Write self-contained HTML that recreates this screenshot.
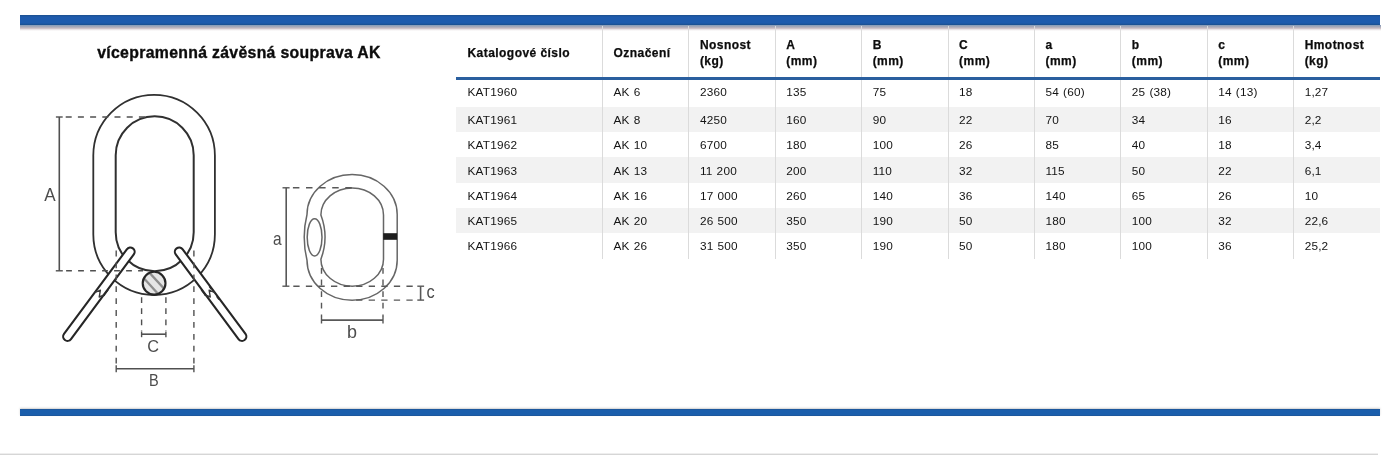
<!DOCTYPE html>
<html lang="cs">
<head>
<meta charset="utf-8">
<title>vícepramenná závěsná souprava AK</title>
<style>
  html, body { margin: 0; padding: 0; background: #ffffff; }
  .title, table.spec, svg.drawing { will-change: transform; }
  body { width: 1400px; height: 455px; position: relative; overflow: hidden;
         font-family: "Liberation Sans", sans-serif; color: #1a1a1a; }
  .bar-top { position: absolute; left: 20px; top: 15px; width: 1360px; height: 10px;
             background: linear-gradient(to bottom, #1b4f8d 0, #1e5bad 2px, #1e5bad 8px, #1b4f8d 10px); }
  .bar-top-shadow { position: absolute; left: 20px; top: 25px; width: 1361px; height: 6px;
             background: linear-gradient(to bottom, #7f9bb9 0, #9aa3b8 1px, #a9a9b8 2px, #cfc3c8 3.5px, #eeeaec 4.7px, #ffffff 6px); }
  .bar-bottom { position: absolute; left: 20px; top: 409px; width: 1360px; height: 7px;
             background: linear-gradient(to bottom, #1d5496 0, #1a5eac 1.5px, #1a5eac 5.5px, #1d5496 7px); box-shadow: 0 -1px 2px rgba(110,110,110,0.32); }
  .foot-line { position: absolute; left: 0; top: 453px; width: 1378px; height: 2px; background: linear-gradient(to bottom, #eeeeee 0, #eeeeee 1px, #d6d6d6 1px, #d6d6d6 2px); }
  .title { position: absolute; left: 21.3px; top: 42px; width: 436px; text-align: center;
           font-weight: bold; font-size: 15.8px; letter-spacing: 0.32px; line-height: 22px; color: #0c0c0c; white-space: nowrap; -webkit-text-stroke: 0.35px #0c0c0c; }
  .drawing { position: absolute; left: 0; top: 0; }

  table.spec { position: absolute; left: 456px; top: 26px; width: 924px; border-collapse: collapse;
               table-layout: fixed; font-size: 11.8px; word-spacing: 0.6px; letter-spacing: 0.2px; }
  table.spec th, table.spec td { padding: 0 0 0 10.5px; text-align: left; vertical-align: middle;
               border-left: 1px solid #dbdbdb; white-space: nowrap; overflow: hidden; }
  table.spec th:first-child, table.spec td:first-child { border-left: none; padding-left: 11.5px; }
  table.spec th { height: 48px; padding-top: 3px; font-weight: bold; font-size: 12px; letter-spacing: 0.45px; word-spacing: 0; line-height: 16px; color: #0c0c0c; -webkit-text-stroke: 0.25px #0c0c0c;
               border-bottom: 3px solid #2a5f9f; }
  table.spec td { height: 24.3px; padding-top: 1px; color: #141414; }
  table.spec tr.first td { height: 24px; padding-top: 0.4px; padding-bottom: 2.4px; }
  table.spec tr.last td { height: 24.3px; padding-top: 1px; padding-bottom: 0.9px; }
  table.spec tr.alt td { background: #f2f2f2; }
</style>
</head>
<body>
<div class="bar-top-shadow"></div>
<div class="bar-top"></div>
<div class="title">vícepramenná závěsná souprava AK</div>

<svg class="drawing" width="456" height="400" viewBox="0 0 456 400" font-family="Liberation Sans, sans-serif">
  <defs>
    <clipPath id="secclip"><circle cx="154.1" cy="283.2" r="11.2"/></clipPath>
  </defs>

  <!-- ===== big link ===== -->
  <g fill="none" stroke="#303030" stroke-width="1.8">
    <path d="M93.3,155.6 A60.8,60.8 0 0 1 214.9,155.6 L214.9,234.2 A60.8,60.8 0 0 1 93.3,234.2 Z"/>
    <path d="M115.7,155.3 A39,39 0 0 1 193.7,155.3 L193.7,232.2 A39,39 0 0 1 115.7,232.2 Z" stroke-width="2"/>
  </g>

  <!-- section circle C -->
  <circle cx="154.1" cy="283.2" r="11.4" fill="#e6e6e6"/>
  <g clip-path="url(#secclip)" stroke="#8e8e8e" stroke-width="2.3" fill="none">
    <line x1="141" y1="275" x2="160" y2="296"/>
    <line x1="146" y1="269" x2="168" y2="293"/>
    <line x1="153" y1="265" x2="172" y2="286"/>
  </g>
  <circle cx="154.1" cy="283.2" r="11.4" fill="none" stroke="#262626" stroke-width="2.1"/>

  <!-- legs -->
  <g stroke-linecap="round">
    <line x1="130.3" y1="251.9" x2="67.5" y2="336.5" stroke="#262626" stroke-width="10.8"/>
    <line x1="130.3" y1="251.9" x2="67.5" y2="336.5" stroke="#ffffff" stroke-width="6.6"/>
    <line x1="179.2" y1="251.9" x2="242" y2="336.5" stroke="#262626" stroke-width="10.8"/>
    <line x1="179.2" y1="251.9" x2="242" y2="336.5" stroke="#ffffff" stroke-width="6.6"/>
  </g>
  <!-- break marks on legs -->
  <g fill="none" stroke="#3a3a3a" stroke-width="1.4" stroke-linejoin="round">
    <path d="M204.6,294.6 L210.3,297 L209.1,290.2 L214.9,292.6"/>
    <path d="M104.9,294.6 L99.2,297 L100.4,290.2 L94.6,292.6"/>
    <path d="M201.3,289.8 L205.8,295.9" stroke-width="1.5" stroke="#2a2a2a"/>
    <path d="M209.2,286.3 L211.4,289.3 M216.6,296.4 L219,299.6" stroke-width="1.3" stroke="#2a2a2a"/>
    <path d="M108.2,289.8 L103.7,295.9" stroke-width="1.2" stroke="#2a2a2a"/>
  </g>

  <!-- dimension A -->
  <g fill="none" stroke="#505050" stroke-width="1.4">
    <line x1="65.7" y1="117" x2="150" y2="117" stroke-dasharray="6 6.2"/>
    <line x1="66.1" y1="270.8" x2="143" y2="270.8" stroke-dasharray="5.8 6.2"/>
    <line x1="59.3" y1="117" x2="59.3" y2="270.8" stroke-width="1.6"/>
    <line x1="55.9" y1="117" x2="62.7" y2="117"/>
    <line x1="55.8" y1="270.8" x2="62.8" y2="270.8"/>
  </g>

  <!-- dimension B -->
  <g fill="none" stroke="#505050" stroke-width="1.4">
    <line x1="116.2" y1="250.6" x2="116.2" y2="365" stroke-dasharray="5.8 6.1"/>
    <line x1="193.9" y1="250.6" x2="193.9" y2="365" stroke-dasharray="5.8 6.1"/>
    <line x1="116.2" y1="368.7" x2="193.9" y2="368.7" stroke-width="1.6"/>
    <line x1="116.2" y1="365.3" x2="116.2" y2="372.2"/>
    <line x1="193.9" y1="365.3" x2="193.9" y2="372.2"/>
  </g>

  <!-- dimension C -->
  <g fill="none" stroke="#505050" stroke-width="1.4">
    <line x1="141.6" y1="297.2" x2="141.6" y2="331" stroke-dasharray="5.8 5.3"/>
    <line x1="165.9" y1="297.2" x2="165.9" y2="331" stroke-dasharray="5.8 5.3"/>
    <line x1="141.6" y1="334.2" x2="165.9" y2="334.2" stroke-width="1.6"/>
    <line x1="141.6" y1="331.4" x2="141.6" y2="337.2"/>
    <line x1="165.9" y1="331.4" x2="165.9" y2="337.2"/>
  </g>

  <g fill="#4d4d4d">
    <text x="44.2" y="201.3" font-size="18.2px" textLength="11.4" lengthAdjust="spacingAndGlyphs">A</text>
    <text x="147.3" y="351.7" font-size="17px" textLength="11.8" lengthAdjust="spacingAndGlyphs">C</text>
    <text x="149.1" y="386" font-size="17.2px" textLength="9.7" lengthAdjust="spacingAndGlyphs">B</text>
  </g>

  <!-- ===== small link ===== -->
  <g fill="none" stroke="#666" stroke-width="1.5">
    <path d="M307,214.5 A45.1,40 0 0 1 397.2,214.5 L397.2,260.2 A45.1,40 0 0 1 307,260.2 Q301.4,237.3 307,214.5 Z"/>
    <path d="M320.9,215 A31.3,27 0 0 1 383.5,215 L383.5,259.2 A31.3,27 0 0 1 320.9,259.2 Q329.2,237.1 320.9,215 Z"/>
    <ellipse cx="314.6" cy="237.3" rx="7.4" ry="18.6" stroke-width="1.5"/>
  </g>
  <rect x="383.2" y="233.2" width="13.9" height="6.6" fill="#1e1e1e"/>

  <!-- dimension a / b / c -->
  <g fill="none" stroke="#585858" stroke-width="1.4">
    <line x1="292.9" y1="187.8" x2="352" y2="187.8" stroke-dasharray="6.5 6.6"/>
    <line x1="293.3" y1="286.2" x2="413" y2="286.2" stroke-dasharray="6.3 6.27"/>
    <line x1="356.1" y1="300.1" x2="413" y2="300.1" stroke-dasharray="6.3 6.27"/>
    <line x1="286.2" y1="187.8" x2="286.2" y2="286.2" stroke-width="1.6"/>
    <line x1="282.5" y1="187.8" x2="289.6" y2="187.8"/>
    <line x1="282.4" y1="286.2" x2="289.4" y2="286.2"/>
    <line x1="420.6" y1="286.2" x2="420.6" y2="300.1" stroke-width="1.6"/>
    <line x1="417.3" y1="286.2" x2="424.1" y2="286.2"/>
    <line x1="417.3" y1="300.1" x2="424.1" y2="300.1"/>
    <line x1="321.5" y1="268" x2="321.5" y2="317" stroke-dasharray="5.8 5.8"/>
    <line x1="383" y1="268" x2="383" y2="317" stroke-dasharray="5.8 5.8"/>
    <line x1="321.5" y1="320.1" x2="383" y2="320.1" stroke-width="1.6"/>
    <line x1="321.5" y1="316.8" x2="321.5" y2="323.5"/>
    <line x1="383" y1="316.8" x2="383" y2="323.5"/>
  </g>
  <g fill="#4d4d4d" font-size="18.5px">
    <text x="272.9" y="244.5" textLength="8.6" lengthAdjust="spacingAndGlyphs">a</text>
    <text x="346.9" y="338" textLength="10" lengthAdjust="spacingAndGlyphs">b</text>
    <text x="426.4" y="298.2" textLength="8.2" lengthAdjust="spacingAndGlyphs">c</text>
  </g>
</svg>

<table class="spec">
  <colgroup>
    <col style="width:146.5px"><col style="width:86.4px"><col style="width:86.4px"><col style="width:86.4px"><col style="width:86.4px">
    <col style="width:86.4px"><col style="width:86.4px"><col style="width:86.4px"><col style="width:86.4px"><col style="width:86.3px">
  </colgroup>
  <thead>
    <tr>
      <th>Katalogové číslo</th><th>Označení</th><th>Nosnost<br>(kg)</th><th>A<br>(mm)</th><th>B<br>(mm)</th>
      <th>C<br>(mm)</th><th>a<br>(mm)</th><th>b<br>(mm)</th><th>c<br>(mm)</th><th>Hmotnost<br>(kg)</th>
    </tr>
  </thead>
  <tbody>
    <tr class="first"><td>KAT1960</td><td>AK 6</td><td>2360</td><td>135</td><td>75</td><td>18</td><td>54 (60)</td><td>25 (38)</td><td>14 (13)</td><td>1,27</td></tr>
    <tr class="alt"><td>KAT1961</td><td>AK 8</td><td>4250</td><td>160</td><td>90</td><td>22</td><td>70</td><td>34</td><td>16</td><td>2,2</td></tr>
    <tr><td>KAT1962</td><td>AK 10</td><td>6700</td><td>180</td><td>100</td><td>26</td><td>85</td><td>40</td><td>18</td><td>3,4</td></tr>
    <tr class="alt"><td>KAT1963</td><td>AK 13</td><td>11 200</td><td>200</td><td>110</td><td>32</td><td>115</td><td>50</td><td>22</td><td>6,1</td></tr>
    <tr><td>KAT1964</td><td>AK 16</td><td>17 000</td><td>260</td><td>140</td><td>36</td><td>140</td><td>65</td><td>26</td><td>10</td></tr>
    <tr class="alt"><td>KAT1965</td><td>AK 20</td><td>26 500</td><td>350</td><td>190</td><td>50</td><td>180</td><td>100</td><td>32</td><td>22,6</td></tr>
    <tr class="last"><td>KAT1966</td><td>AK 26</td><td>31 500</td><td>350</td><td>190</td><td>50</td><td>180</td><td>100</td><td>36</td><td>25,2</td></tr>
  </tbody>
</table>

<div class="bar-bottom"></div>
<div class="foot-line"></div>
</body>
</html>
